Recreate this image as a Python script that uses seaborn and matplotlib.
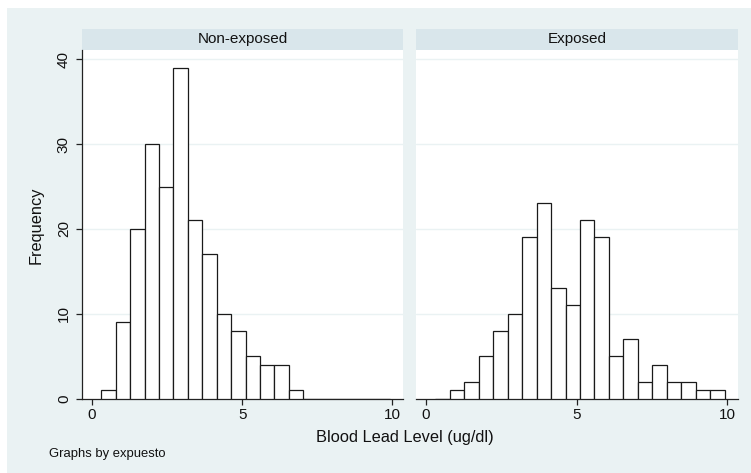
import numpy as np
import pandas as pd
import matplotlib
matplotlib.use("Agg")
import matplotlib.pyplot as plt
import seaborn as sns
from matplotlib.patches import Rectangle

# ---- data ----
panels = ["Non-exposed", "Exposed"]
bin_start = 0.31
bin_width = 0.48
n_bins = 20
# counts per bin (Non-exposed occupies bins 0..13, Exposed bins 1..19)
nonexposed_counts = [1, 9, 20, 30, 25, 39, 21, 17, 10, 8, 5, 4, 4, 1]
exposed_counts = [1, 2, 5, 8, 10, 19, 23, 13, 11, 21, 19, 5, 7, 2, 4, 2, 2, 1, 1]
nonexposed_first_bin = 0
exposed_first_bin = 1
x_ticks = [0, 5, 10]
y_ticks = [0, 10, 20, 30, 40]

edges = bin_start + bin_width * np.arange(n_bins + 1)
centers = (edges[:-1] + edges[1:]) / 2

def make_df(counts, first):
    idx = np.arange(first, first + len(counts))
    return pd.DataFrame({"lead": centers[idx], "count": counts})

dfs = [make_df(nonexposed_counts, nonexposed_first_bin),
       make_df(exposed_counts, exposed_first_bin)]

sns.set_style("white")
plt.rcParams["font.family"] = ["Liberation Sans", "DejaVu Sans"]

W, H = 751, 473
BG = "#EAF2F3"
STRIP = "#D9E6EB"
fig = plt.figure(figsize=(W / 100, H / 100), dpi=100, facecolor="white")
fig.patches.append(Rectangle((7 / W, 0), 1 - 7 / W, 1 - 8 / H, transform=fig.transFigure,
                             facecolor=BG, edgecolor="none", zorder=-10))

ax_left_px = [(82, 403), (416, 738)]
top_px, bot_px = 50, 398.5
axes = []
for i, (x0, x1) in enumerate(ax_left_px):
    ax = fig.add_axes([x0 / W, 1 - bot_px / H, (x1 - x0) / W, (bot_px - top_px) / H])
    axes.append(ax)
    # header strip
    fig.patches.append(Rectangle((x0 / W, 1 - top_px / H), (x1 - x0) / W, 21 / H,
                                 transform=fig.transFigure, facecolor=STRIP,
                                 edgecolor="none", zorder=-5))
    fig.text((x0 + x1) / 2 / W, 1 - 39.5 / H, panels[i], ha="center", va="center",
             fontsize=11, color="#111111")

    sns.histplot(data=dfs[i], x="lead", weights="count", bins=[float(e) for e in edges],
                 ax=ax, color="white", edgecolor="#1a1a1a", linewidth=0.9, alpha=1,
                 zorder=3)
    ax.set_facecolor("white")
    ax.set_xlim(-0.33, 10.35)
    ax.set_ylim(0, 41.1)
    for y in y_ticks[1:]:
        ax.axhline(y, color=BG, lw=1.0, zorder=1)
    ax.set_xticks(x_ticks)
    ax.set_xlabel("")
    ax.set_ylabel("")
    for s in ["top", "right"]:
        ax.spines[s].set_visible(False)
    ax.spines["bottom"].set_color("#222222")
    ax.spines["bottom"].set_linewidth(0.9)
    ax.tick_params(axis="x", direction="out", length=4, width=0.9, color="#222222",
                   labelsize=11, pad=3, bottom=True, labelcolor="#111111")
    if i == 0:
        ax.spines["left"].set_color("#222222")
        ax.spines["left"].set_linewidth(0.9)
        ax.set_yticks(y_ticks)
        ax.tick_params(axis="y", direction="out", length=4, width=0.9, color="#222222",
                       labelsize=11, pad=4, left=True, labelcolor="#111111")
        for lbl in ax.get_yticklabels():
            lbl.set_rotation(90)
            lbl.set_va("center")
    else:
        ax.spines["left"].set_visible(False)
        ax.set_yticks([])

fig.text(36 / W, 1 - 225.5 / H, "Frequency", rotation=90, ha="center", va="center",
         fontsize=11.8, color="#111111")
fig.text(405 / W, 1 - 437 / H, "Blood Lead Level (ug/dl)", ha="center", va="center",
         fontsize=11.8, color="#111111")
fig.text(49 / W, 1 - 454 / H, "Graphs by expuesto", ha="left", va="center",
         fontsize=9.4, color="#111111")

fig.savefig("out.png", dpi=100, facecolor=fig.get_facecolor())
